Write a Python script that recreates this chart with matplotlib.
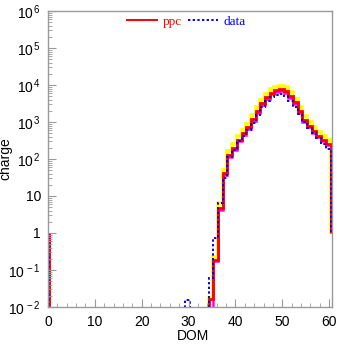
import numpy as np
import matplotlib
matplotlib.use("Agg")
import matplotlib.pyplot as plt
from matplotlib.lines import Line2D
from matplotlib.ticker import FixedLocator, LogLocator, NullFormatter, MultipleLocator

plt.rcParams["font.family"] = ["Liberation Sans", "DejaVu Sans"]
plt.rcParams["mathtext.fontset"] = "custom"
plt.rcParams["mathtext.rm"] = "Liberation Sans"
plt.rcParams["mathtext.it"] = "Liberation Sans"

# DOM numbers on the string, charge per DOM (only DOMs 35..60 are lit, plus a few stragglers)
dom = np.arange(1, 61)
lit_dom = np.arange(35, 61)

ppc_lit = [0.016, 0.19, 4.6, 41, 128, 200, 330, 500, 720, 1200, 2000, 3200, 4600,
           6200, 7200, 7600, 6900, 5000, 3400, 2000, 1150, 800, 580, 430, 330, 260]
ppc_hi_lit = [0.018, 0.23, 6.3, 52, 160, 250, 410, 620, 900, 1500, 2500, 4000, 5700,
              7700, 9000, 9500, 8600, 6300, 4300, 2500, 1450, 1000, 730, 540, 410, 320]
ppc_lo_lit = [0.0, 0.17, 4.3, 37, 115, 180, 300, 450, 650, 1080, 1800, 2900, 4150,
              5600, 6500, 6850, 6200, 4500, 3050, 1800, 1030, 720, 520, 390, 300, 235]
data_lit = [0.06, 0.73, 6.5, 30, 110, 180, 300, 430, 600, 950, 1550, 2500, 3700,
            4700, 5500, 5700, 5000, 3800, 2600, 1600, 1000, 680, 500, 360, 260, 190]
data_extra_dom = [30]
data_extra = [0.015]

tiny = 1e-4  # empty bins, below the axis


def full(lit, extra_dom=(), extra=()):
    v = np.full(len(dom), tiny)
    v[lit_dom - 1] = np.maximum(lit, tiny)
    for d, e in zip(extra_dom, extra):
        v[d - 1] = e
    return v


ppc = full(ppc_lit)
ppc_hi = full(ppc_hi_lit)
ppc_lo = full(ppc_lo_lit)
data = full(data_lit, data_extra_dom, data_extra)

edges = np.append(dom - 0.7, dom[-1] + 0.3)

fig = plt.figure(figsize=(3.37, 3.44), dpi=100)
ax = fig.add_axes([0.1424, 0.1076, 0.8426, 0.8604])

ax.stairs(ppc_hi, edges, baseline=1, color="#ffff00", lw=2.6)
ax.stairs(ppc_lo, edges, baseline=1, color="#ff00ff", lw=1.8)
ax.stairs(ppc, edges, baseline=1, color="#ff0000", lw=2.0)
ax.stairs(data, edges, baseline=1, color="#0000ff", lw=1.4, linestyle=(0, (1.2, 1.2)))

ax.set_yscale("log")
ax.set_xlim(0, 60.6)
ax.set_ylim(1e-2, 1e6)

# ROOT-ish frame
grey = "#9a9a9a"
for s in ax.spines.values():
    s.set_color(grey)
    s.set_linewidth(1.0)

ax.xaxis.set_major_locator(MultipleLocator(10))
ax.xaxis.set_minor_locator(MultipleLocator(2))
ax.yaxis.set_major_locator(FixedLocator([10.0 ** k for k in range(-2, 7)]))
ax.yaxis.set_minor_locator(LogLocator(base=10, subs=np.arange(2, 10)))
ax.yaxis.set_minor_formatter(NullFormatter())
ylabels = ["$10^{\\,-2}$", "$10^{\\,-1}$", "1", "10", "$10^{\\,2}$", "$10^{\\,3}$",
           "$10^{\\,4}$", "$10^{\\,5}$", "$10^{\\,6}$"]
ax.set_yticklabels(ylabels)

ax.tick_params(which="both", direction="in", color=grey, labelsize=10,
               top=False, right=False)
ax.tick_params(which="major", length=6)
ax.tick_params(which="minor", length=3)
ax.tick_params(axis="x", pad=6)
ax.tick_params(axis="y", pad=5)

ax.set_xlabel("DOM", fontsize=10, labelpad=0)
ax.xaxis.set_label_coords(0.51, -0.074)
ax.set_ylabel("charge", fontsize=10)
ax.yaxis.set_label_coords(-0.125, 0.5)

handles = [Line2D([], [], color="#ff0000", lw=1.4),
           Line2D([], [], color="#0000ff", lw=1.4, linestyle=(0, (1.2, 1.2)))]
ax.legend(handles, ["ppc", "data"], loc="center", bbox_to_anchor=(0.487, 0.963),
          ncol=2, frameon=False, prop={"family": "Liberation Serif", "size": 9.5},
          labelcolor="linecolor", handlelength=2.3, handletextpad=0.4,
          columnspacing=0.5, borderpad=0)

fig.savefig("out.png", dpi=100)
